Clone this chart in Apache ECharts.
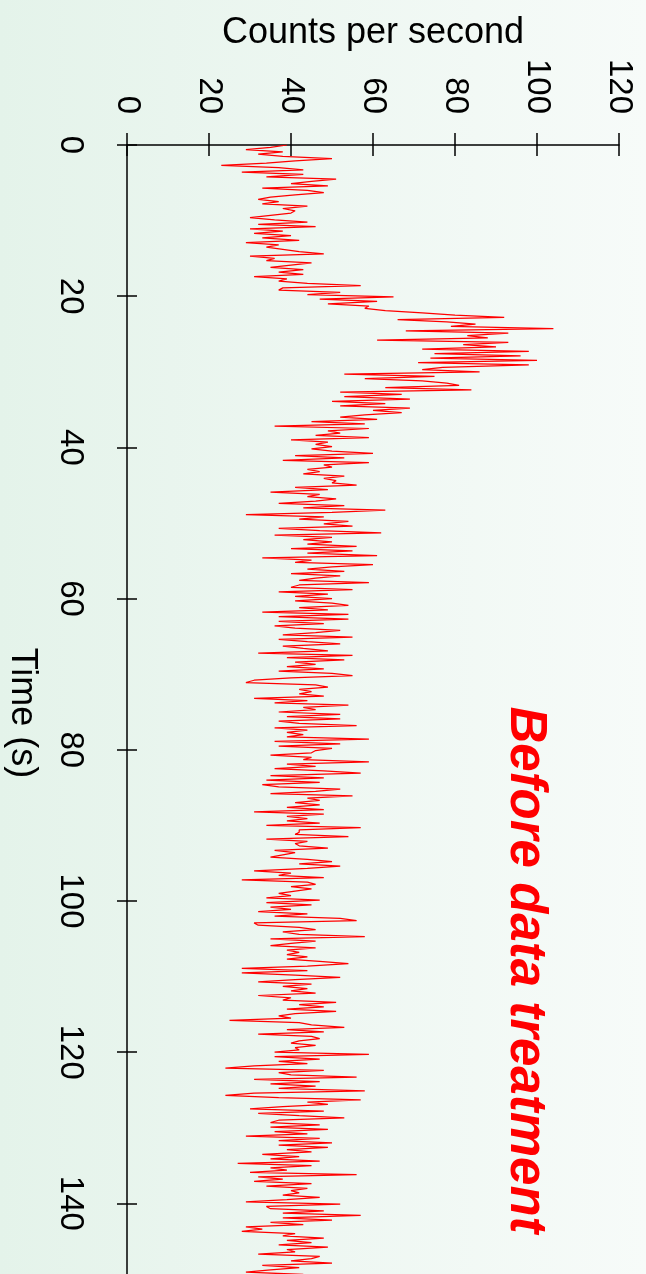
<!DOCTYPE html>
<html>
<head>
<meta charset="utf-8">
<script src="https://cdn.jsdelivr.net/npm/echarts@6/dist/echarts.min.js"></script>
<style>
html,body{margin:0;padding:0;}
#chart{width:646px;height:1274px;}
</style>
</head>
<body>
<div id="chart"></div>
<script>
// Sampling step in seconds
const dt = 0.3;
// Counts per second (consecutive samples)
const counts0to15 = [39,35,29,38,32,38,50,41,34,23,37,43,28,43,34,51,45,40,49,33,44,48,41,35,32,37,33,44,38,41,40,35,30,36,44,32,46,30,38,31,40,33,42,29,37,34,38,42,48];
const counts15to30 = [30,36,34,45,40,35,43,37,43,31,39,37,44,57,38,37,52,44,65,47,61,49,59,58,63,72,80,92,66,78,85,79,104,68,93,83,88,61,93,82,90,72,98,75,96,74,100,71,98,77,72];
const counts30to45 = [86,53,75,58,72,78,81,63,84,52,67,53,69,50,63,52,69,60,67,58,52,61,45,58,36,59,49,52,46,59,40,49,46,50,45,50,60,41,53,38,59,48,50,44,47,43,53,48,51,50];
const counts45to60 = [56,41,49,35,47,44,51,46,37,53,43,63,50,29,48,42,54,48,55,37,47,62,36,50,43,50,44,56,40,55,44,61,33,45,41,60,50,44,53,40,52,46,42,59,42,40,55,37,49,41,50];
const counts60to75 = [41,50,54,42,49,33,54,37,54,37,48,36,41,52,46,38,55,37,44,52,38,43,49,32,55,39,53,41,46,39,48,37,50,55,40,31,29,46,49,42,45,42,48,31,44,36,54,43,46,37,52];
const counts75to90 = [39,52,37,42,56,36,44,39,43,39,59,36,52,37,50,46,45,35,45,43,59,39,46,36,48,57,35,48,34,47,33,37,52,46,35,55,44,47,41,47,39,48,31,48,39,44,39,47,34,57,42];
const counts90to105 = [42,41,54,34,44,41,42,49,36,41,38,35,44,50,42,52,44,31,40,37,48,28,44,46,40,45,41,37,40,34,47,34,45,35,40,32,44,36,52,56,31,32,42,46,38,42,58,35,46,40];
const counts105to120 = [35,46,39,42,39,44,39,47,54,44,28,44,28,41,52,41,32,45,38,44,40,46,32,40,38,51,42,48,39,51,41,37,40,25,42,45,53,39,48,32,45,47,42,40,46,41,42,36,59,36,47];
const counts120to135 = [37,44,31,24,48,37,40,56,31,47,35,46,37,58,31,24,37,57,44,49,38,30,48,32,42,53,37,35,47,35,49,36,44,29,47,37,50,37,49,39,45,33,42,35,47,27];
const counts135to150 = [45,35,39,30,56,32,38,31,45,34,44,40,42,38,47,39,29,52,34,35,48,38,57,38,50,35,43,29,33,28,41,38,48,39,45,37,49,39,41,32,47,45,40,50,33,42,35,29,43,34];

const countTicks = [0,20,40,60,80,100,120];
const timeTicks = [0,20,40,60,80,100,120,140];

const countsAll = [].concat(counts0to15,counts15to30,counts30to45,counts45to60,counts60to75,
  counts75to90,counts90to105,counts105to120,counts120to135,counts135to150);
const seriesData = countsAll.map((v,i)=>[v, +(i*dt).toFixed(2)]);

const FONT = 'Liberation Sans, Arial, Helvetica, sans-serif';
const chart = echarts.init(document.getElementById('chart'), null, {renderer:'canvas'});

const lineStyle = {color:'#000', width:1.5};
chart.setOption({
  animation:false,
  backgroundColor: new echarts.graphic.LinearGradient(0,0,1,0,[
    {offset:0,color:'#e4f3ea'},{offset:1,color:'#f7fbf9'}]),
  grid:{left:127, top:145, width:492, height:1209.6, outerBoundsMode:'none', containLabel:false},
  xAxis:[{
    type:'value', position:'top', min:countTicks[0], max:countTicks[countTicks.length-1], interval:20,
    name:'Counts per second', nameLocation:'middle', nameGap:93,
    nameTextStyle:{fontFamily:FONT, fontSize:36, color:'#000'},
    axisLine:{show:true, lineStyle:lineStyle},
    axisTick:{show:true, length:12, lineStyle:lineStyle},
    axisLabel:{show:true, rotate:-90, margin:31, fontFamily:FONT, fontSize:33, color:'#000'},
    splitLine:{show:false}
  },{
    type:'value', position:'top', min:countTicks[0], max:countTicks[countTicks.length-1], interval:20,
    axisLine:{show:false}, axisLabel:{show:false}, splitLine:{show:false},
    axisTick:{show:true, inside:true, length:11, lineStyle:lineStyle}
  }],
  yAxis:[{
    type:'value', position:'left', inverse:true, min:0, max:160, interval:20,
    axisLine:{show:true, lineStyle:lineStyle},
    axisTick:{show:true, length:10, lineStyle:lineStyle},
    axisLabel:{show:true, rotate:-90, margin:40, fontFamily:FONT, fontSize:33, color:'#000',
      formatter:v=> timeTicks.indexOf(v)>=0 ? String(v) : ''},
    splitLine:{show:false}
  },{
    type:'value', position:'left', inverse:true, min:0, max:160, interval:20,
    axisLine:{show:false}, axisLabel:{show:false}, splitLine:{show:false},
    axisTick:{show:true, inside:true, length:10, lineStyle:lineStyle}
  }],
  series:[{
    type:'line', xAxisIndex:0, yAxisIndex:0, data:seriesData,
    showSymbol:false, symbol:'none',
    lineStyle:{color:'#ff0000', width:1.25}, clip:true
  }],
  graphic:[{
    type:'text', x:22, y:713, rotation:-Math.PI/2,
    style:{text:'Time (s)', fill:'#000', fontFamily:FONT,
      fontSize:36, align:'center', verticalAlign:'middle'}
  },{
    type:'text', x:525, y:970, rotation:-Math.PI/2,
    style:{text:'Before data treatment', fill:'#ff0000', fontFamily:FONT,
      fontSize:51, fontWeight:'bold', fontStyle:'italic', align:'center', verticalAlign:'middle'}
  }]
});
</script>
</body>
</html>
